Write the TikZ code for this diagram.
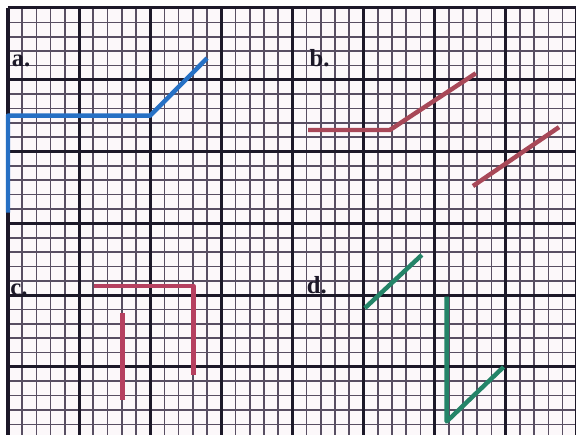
\documentclass[tikz,border=0pt]{standalone}
\usepackage{fontspec}
\setmainfont{Liberation Serif}
\definecolor{paper}{RGB}{252,248,250}
\definecolor{minorline}{RGB}{88,78,98}
\definecolor{majorline}{RGB}{28,24,40}
\definecolor{traceblue}{RGB}{38,112,196}
\definecolor{tracered}{RGB}{168,72,88}
\definecolor{tracepink}{RGB}{182,64,96}
\definecolor{tracegreen}{RGB}{36,132,104}
\begin{document}
\begin{tikzpicture}[x=2.133cm, y=2.154cm,
    trace/.style={line width=3.8pt, line join=round},
    lbl/.style={anchor=base west, inner sep=0pt, text=majorline, font=\bfseries\fontsize{21}{21}\selectfont}]
    % Paper
    \fill[white] (-0.1125,0.053) rectangle (7.989,6.111);
    \useasboundingbox (-0.1125,0.053) rectangle (7.989,6.111);
    \clip (-0.1125,0.053) rectangle (7.989,6.111);
    \fill[paper] (0,-0.2) rectangle (8.2,6);
    % Grid
    \draw[step=0.2, minorline, line width=1.4pt] (0,-0.2) grid (8.2,6);
    \draw[step=1, majorline, line width=2.6pt] (0,-0.2) grid (8.2,6);
    % a.
    \node[lbl] (la) at (0.05,5.18) {a.};
    \draw[trace, traceblue] (0,3.15) -- (0,4.5) -- (2,4.5) -- (2.8,5.3);
    % b.
    \node[lbl] (lb) at (4.24,5.18) {b.};
    \draw[trace, tracered] (4.22,4.3) -- (5.37,4.3) -- (6.58,5.09);
    \draw[trace, tracered] (6.54,3.52) -- (7.75,4.34);
    % c.
    \node[lbl] (lc) at (0.03,2.0) {c.};
    \draw[trace, tracepink] (1.21,2.13) -- (2.61,2.13) -- (2.61,0.89);
    \draw[trace, tracepink] (1.61,1.75) -- (1.61,0.54);
    % d.
    \node[lbl] (ld) at (4.2,2.03) {d.};
    \draw[trace, tracegreen] (5.02,1.82) -- (5.82,2.56);
    \draw[trace, tracegreen] (6.17,1.98) -- (6.17,0.24) -- (6.97,1.0);
\end{tikzpicture}
\end{document}
